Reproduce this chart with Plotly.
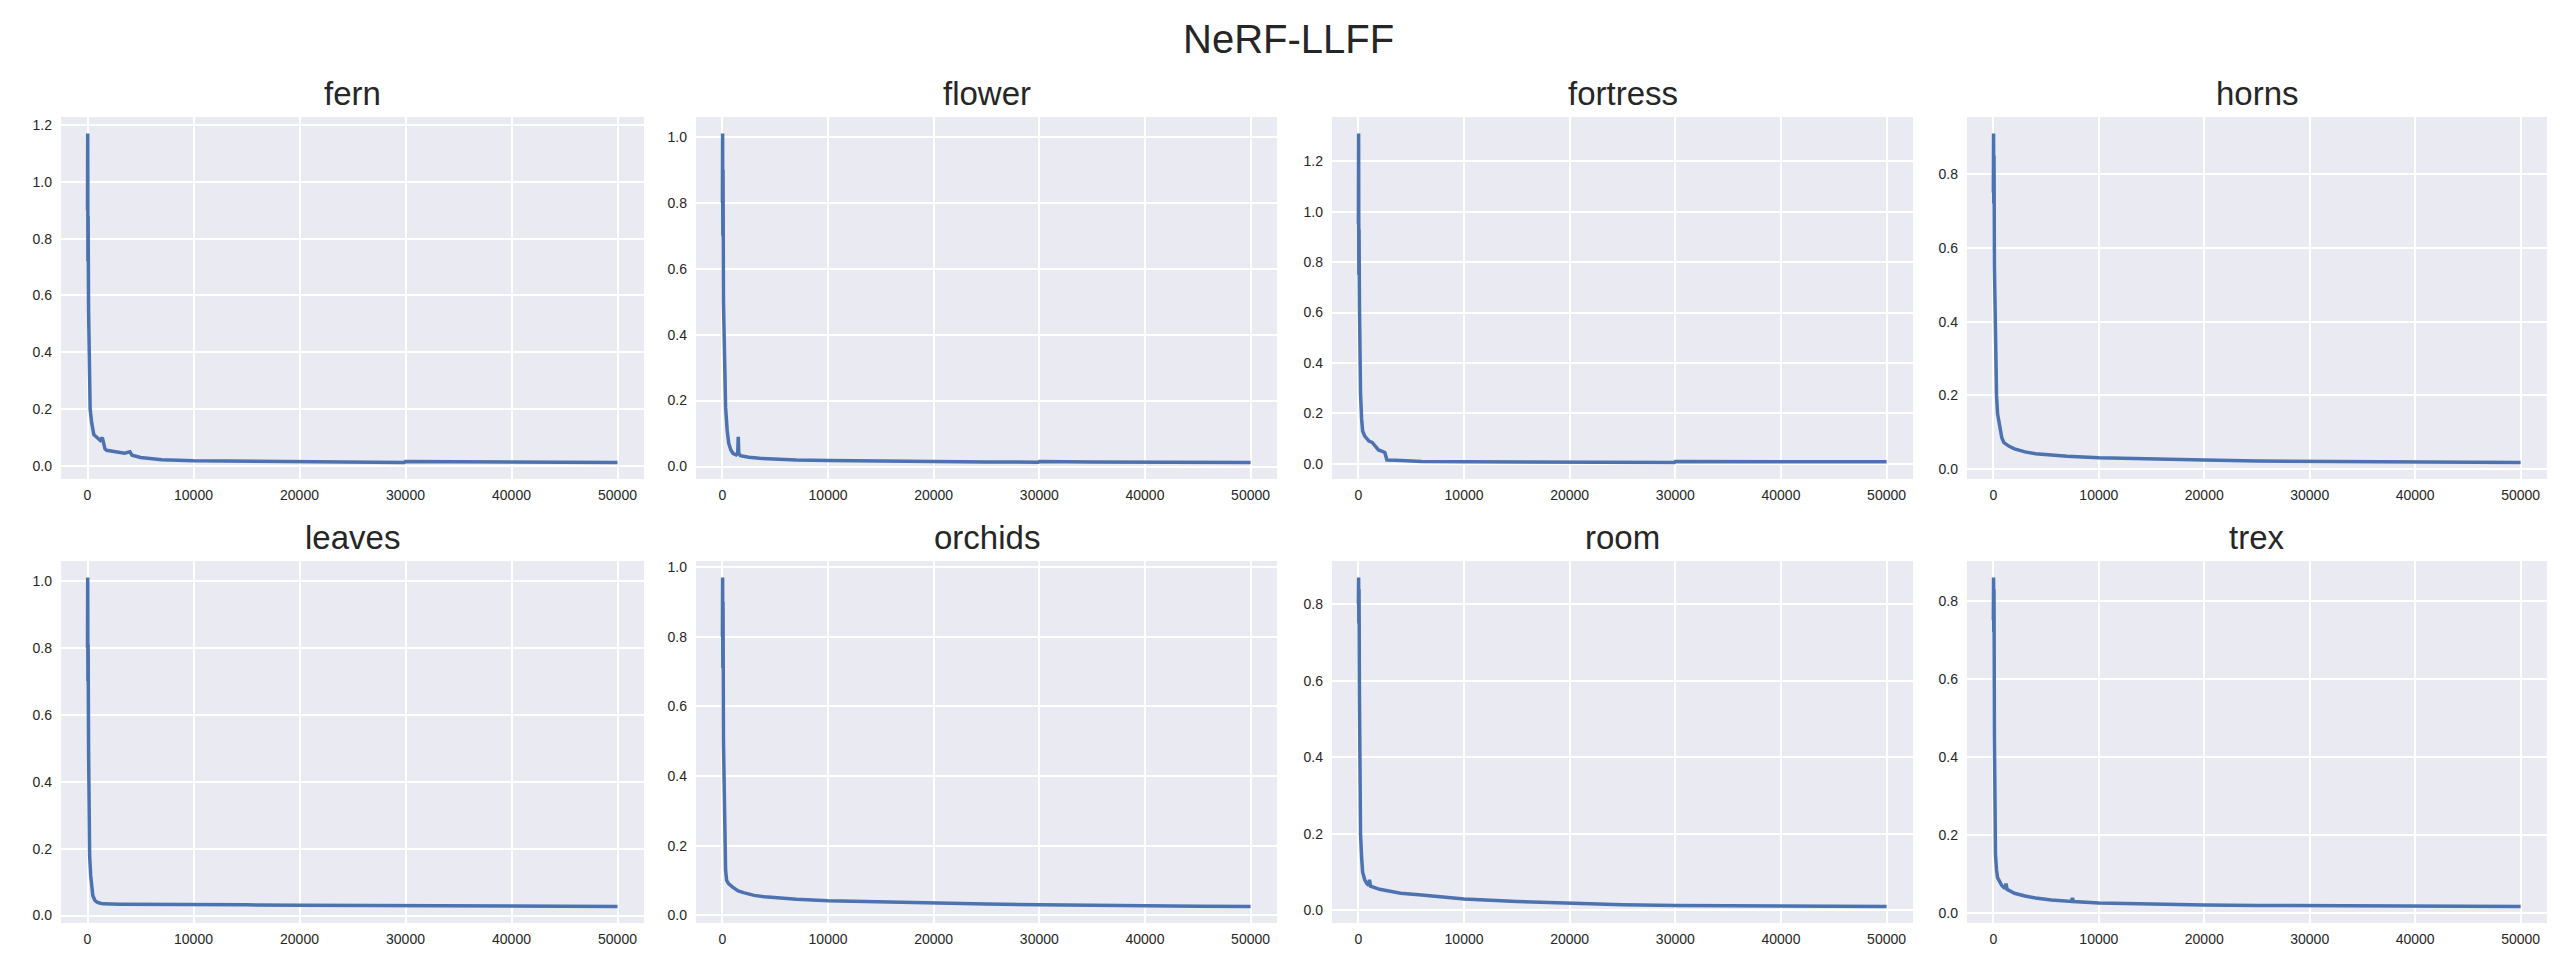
import plotly.graph_objects as go

scenes = ["fern", "flower", "fortress", "horns", "leaves", "orchids", "room", "trex"]

fern_steps = [0, 20, 40, 60, 100, 150, 250, 400, 600, 900, 1200, 1400, 1500, 1650, 1800, 2500, 3500, 4000, 4200, 5000, 7000, 10000, 15000, 20000, 25000, 29900, 30000, 35000, 40000, 45000, 50000]
fern_loss = [0.90, 1.17, 0.72, 0.88, 0.55, 0.35, 0.20, 0.15, 0.11, 0.10, 0.09, 0.10, 0.08, 0.06, 0.055, 0.05, 0.045, 0.05, 0.038, 0.03, 0.022, 0.018, 0.016, 0.015, 0.014, 0.012, 0.016, 0.015, 0.015, 0.014, 0.012]

flower_steps = [0, 20, 40, 60, 100, 200, 300, 450, 600, 800, 1000, 1300, 1450, 1500, 1550, 1700, 2500, 3500, 5000, 7000, 10000, 15000, 20000, 25000, 29900, 30000, 35000, 40000, 45000, 50000]
flower_loss = [0.80, 1.01, 0.70, 0.90, 0.50, 0.30, 0.18, 0.11, 0.07, 0.05, 0.04, 0.035, 0.04, 0.09, 0.04, 0.033, 0.028, 0.025, 0.022, 0.02, 0.018, 0.016, 0.015, 0.014, 0.013, 0.015, 0.014, 0.014, 0.013, 0.012]

fortress_steps = [0, 20, 40, 60, 100, 150, 200, 300, 400, 600, 800, 1000, 1300, 1600, 1900, 2200, 2500, 2600, 2700, 3500, 4500, 6000, 10000, 20000, 29900, 30000, 40000, 50000]
fortress_loss = [0.95, 1.31, 0.75, 0.93, 0.62, 0.40, 0.28, 0.18, 0.13, 0.11, 0.10, 0.09, 0.085, 0.07, 0.055, 0.05, 0.045, 0.03, 0.015, 0.014, 0.012, 0.009, 0.008, 0.007, 0.005, 0.009, 0.009, 0.008]

horns_steps = [0, 20, 40, 60, 100, 200, 300, 400, 600, 800, 1000, 1500, 2000, 3000, 4000, 5500, 7000, 10000, 15000, 20000, 25000, 30000, 40000, 50000]
horns_loss = [0.75, 0.91, 0.72, 0.85, 0.55, 0.30, 0.20, 0.15, 0.11, 0.085, 0.072, 0.062, 0.055, 0.047, 0.042, 0.038, 0.035, 0.031, 0.027, 0.025, 0.022, 0.021, 0.019, 0.018]

leaves_steps = [0, 20, 40, 60, 100, 150, 200, 300, 400, 500, 700, 900, 1200, 1500, 3000, 5000, 10000, 15000, 20000, 25000, 30000, 35000, 40000, 45000, 50000]
leaves_loss = [0.80, 1.01, 0.70, 0.81, 0.50, 0.30, 0.18, 0.12, 0.08, 0.06, 0.045, 0.04, 0.037, 0.035, 0.034, 0.034, 0.033, 0.032, 0.031, 0.030, 0.030, 0.029, 0.028, 0.028, 0.027]

orchids_steps = [0, 20, 40, 60, 100, 200, 300, 400, 600, 1000, 1500, 2000, 3000, 4000, 5000, 7000, 10000, 15000, 20000, 25000, 30000, 35000, 40000, 45000, 50000]
orchids_loss = [0.80, 0.97, 0.71, 0.90, 0.50, 0.20, 0.13, 0.10, 0.09, 0.08, 0.07, 0.065, 0.057, 0.053, 0.05, 0.046, 0.042, 0.038, 0.035, 0.032, 0.030, 0.028, 0.027, 0.026, 0.025]

room_steps = [0, 20, 40, 60, 100, 200, 300, 400, 600, 800, 1000, 1050, 1150, 1500, 2000, 3000, 4000, 6000, 8000, 10000, 15000, 20000, 25000, 30000, 35000, 40000, 45000, 50000]
room_loss = [0.80, 0.87, 0.75, 0.84, 0.55, 0.20, 0.14, 0.10, 0.08, 0.07, 0.065, 0.08, 0.063, 0.06, 0.055, 0.05, 0.045, 0.04, 0.035, 0.03, 0.023, 0.018, 0.015, 0.013, 0.012, 0.011, 0.011, 0.010]

trex_steps = [0, 20, 40, 60, 100, 200, 300, 400, 600, 800, 1100, 1200, 1300, 1600, 2000, 3000, 4000, 5500, 7400, 7500, 7600, 10000, 15000, 20000, 25000, 30000, 40000, 50000]
trex_loss = [0.75, 0.86, 0.72, 0.83, 0.45, 0.15, 0.11, 0.09, 0.08, 0.07, 0.062, 0.075, 0.06, 0.055, 0.05, 0.043, 0.038, 0.033, 0.029, 0.038, 0.029, 0.025, 0.022, 0.02, 0.019, 0.018, 0.017, 0.016]

steps_list = [fern_steps, flower_steps, fortress_steps, horns_steps, leaves_steps, orchids_steps, room_steps, trex_steps]
loss_list = [fern_loss, flower_loss, fortress_loss, horns_loss, leaves_loss, orchids_loss, room_loss, trex_loss]

x_ticks = [0, 10000, 20000, 30000, 40000, 50000]

W, H = 2560, 960
col_px = [(53, 636), (688, 1269), (1324, 1905), (1959, 2539)]
row_px = [(109, 471), (553, 915)]

LINE = "#4C72B0"
BG = "#EAEAF2"
TXT = "#262626"
FONT = "Liberation Sans, Arial, sans-serif"

fig = go.Figure()
layout = dict(
    width=W, height=H,
    margin=dict(l=0, r=0, t=0, b=0),
    paper_bgcolor="white",
    plot_bgcolor=BG,
    showlegend=False,
    font=dict(family=FONT, color=TXT),
)
annotations = []
for i, name in enumerate(scenes):
    r, c = divmod(i, 4)
    n = i + 1
    xa = "x" if n == 1 else f"x{n}"
    ya = "y" if n == 1 else f"y{n}"
    xs, ys = steps_list[i], loss_list[i]
    fig.add_trace(go.Scatter(x=xs, y=ys, mode="lines", xaxis=xa, yaxis=ya,
                             line=dict(color=LINE, width=3.5)))
    x0, x1 = col_px[c]
    y0, y1 = row_px[r]
    xdom = [x0 / W, x1 / W]
    ydom = [1 - y1 / H, 1 - y0 / H]
    xmin, xmax = min(xs), max(xs)
    ymin, ymax = min(ys), max(ys)
    xpad = 0.05 * (xmax - xmin)
    ypad = 0.05 * (ymax - ymin)
    layout["xaxis" if n == 1 else f"xaxis{n}"] = dict(
        domain=xdom, anchor=ya, range=[xmin - xpad, xmax + xpad],
        tickmode="array", tickvals=x_ticks, ticktext=[str(t) for t in x_ticks],
        showgrid=True, gridcolor="white", gridwidth=1.6, zeroline=False,
        showline=False, ticks="", tickfont=dict(size=14, color=TXT, family=FONT),
        ticklabelstandoff=6, automargin=False,
    )
    layout["yaxis" if n == 1 else f"yaxis{n}"] = dict(
        domain=ydom, anchor=xa, range=[ymin - ypad, ymax + ypad],
        tick0=0, dtick=0.2, tickformat=".1f",
        showgrid=True, gridcolor="white", gridwidth=1.6, zeroline=False,
        showline=False, ticks="", tickfont=dict(size=14, color=TXT, family=FONT),
        ticklabelstandoff=8, automargin=False,
    )
    annotations.append(dict(
        text=name, x=(xdom[0] + xdom[1]) / 2, y=ydom[1], xref="paper", yref="paper",
        xanchor="center", yanchor="bottom", yshift=3, showarrow=False,
        font=dict(size=33, color=TXT, family=FONT),
    ))

annotations.append(dict(
    text="NeRF-LLFF", x=0.5, y=1 - 31 / H, xref="paper", yref="paper",
    xanchor="center", yanchor="middle", showarrow=False,
    font=dict(size=40, color=TXT, family=FONT),
))
layout["annotations"] = annotations
fig.update_layout(**layout)
fig.write_html("out.html")
